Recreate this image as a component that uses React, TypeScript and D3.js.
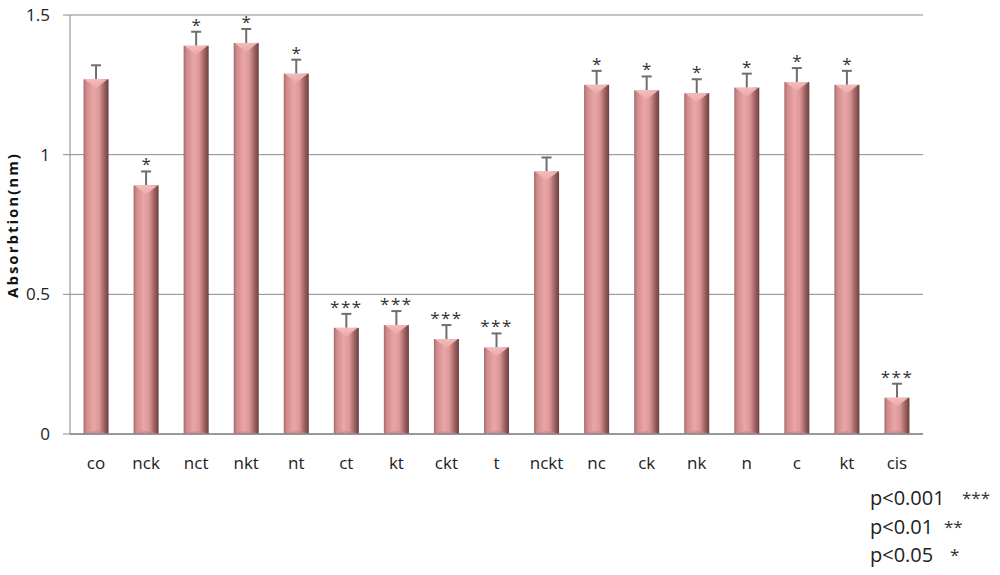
import React from "react";
import * as d3 from "d3";

const categories = ["co", "nck", "nct", "nkt", "nt", "ct", "kt", "ckt", "t", "nckt", "nc", "ck", "nk", "n", "c", "kt ", "cis"];
const values = [1.27, 0.89, 1.39, 1.40, 1.29, 0.38, 0.39, 0.34, 0.31, 0.94, 1.25, 1.23, 1.22, 1.24, 1.26, 1.25, 0.13];
const errors = [0.05, 0.05, 0.05, 0.05, 0.05, 0.05, 0.05, 0.05, 0.05, 0.05, 0.05, 0.05, 0.05, 0.05, 0.05, 0.05, 0.05];
const stars = ["", "*", "*", "*", "*", "***", "***", "***", "***", "", "*", "*", "*", "*", "*", "*", "***"];
const yTicks = [0, 0.5, 1, 1.5];
const legendLabels = ["p<0.001", "p<0.01", "p<0.05"];
const legendStars = ["***", "**", "*"];

const W = 1000, H = 575;
const left = 70, right = 923, top = 15, bottom = 434;
const font = "'Open Sans', 'Liberation Sans', sans-serif";
const legendStarX = [962, 944, 950];
const legendY = [505, 534, 562];

export default function App() {
  const x = d3.scaleBand<string>().domain(categories).range([left, right]).paddingInner(0.5).paddingOuter(0.27);
  const y = d3.scaleLinear().domain([0, 1.5]).range([bottom, top]);
  const bw = x.bandwidth();
  return (
    <svg width={W} height={H} style={{ position: "absolute", left: 0, top: 0, background: "#fff" }}>
      <defs>
        <linearGradient id="barG" x1="0" x2="1" y1="0" y2="0">
          <stop offset="0" stopColor="#a86a6a" />
          <stop offset="0.12" stopColor="#d08c8c" />
          <stop offset="0.4" stopColor="#eaa6a6" />
          <stop offset="0.62" stopColor="#dc9898" />
          <stop offset="0.82" stopColor="#a26464" />
          <stop offset="1" stopColor="#6a4040" />
        </linearGradient>
        <linearGradient id="topG" x1="0" x2="0" y1="0" y2="1">
          <stop offset="0" stopColor="#f6c0c0" />
          <stop offset="1" stopColor="#eba8a8" />
        </linearGradient>
      </defs>
      {yTicks.map(t => (
        <g key={t}>
          <line x1={63} x2={right} y1={y(t)} y2={y(t)} stroke="#8a8a8a" strokeWidth={1} />
          <text x={50} y={y(t)} dy="0.35em" textAnchor="end" fontFamily={font} fontSize={17} fill="#222">{t}</text>
        </g>
      ))}
      <line x1={left} x2={left} y1={top} y2={bottom} stroke="#8a8a8a" strokeWidth={1} />
      <text transform={`translate(13,225) rotate(-90)`} textAnchor="middle" dy="0.35em"
        fontFamily={font} fontSize={15} fontWeight="bold" letterSpacing={2} fill="#111">Absorbtion(nm)</text>
      {categories.map((c, i) => {
        const x0 = x(c)!;
        const yv = y(values[i]);
        const ye = y(values[i] + errors[i]);
        const cx = x0 + bw / 2;
        return (
          <g key={c}>
            <line x1={cx} x2={cx} y1={yv} y2={ye} stroke="#6e6e6e" strokeWidth={2} />
            <line x1={cx - 5} x2={cx + 5} y1={ye} y2={ye} stroke="#6e6e6e" strokeWidth={2} />
            <rect x={x0} y={yv} width={bw} height={bottom - yv} fill="url(#barG)" />
            <path d={`M${x0 + 1},${yv} L${x0 + bw - 1},${yv} L${cx},${yv + 9} Z`} fill="url(#topG)" opacity={0.9} />
            <path d={`M${x0},${bottom} Q${cx},${bottom - 6} ${x0 + bw},${bottom}`} fill="#c98484" opacity={0.6} />
            <text x={cx} y={ye - 1} textAnchor="middle" fontFamily={font} fontSize={17} fill="#333" letterSpacing={stars[i].length > 1 ? 1.5 : 0}>{stars[i]}</text>
            <text x={cx} y={469} textAnchor="middle" fontFamily={font} fontSize={17} fill="#222">{c.trim()}</text>
          </g>
        );
      })}
      <line x1={left} x2={right} y1={bottom} y2={bottom} stroke="#8a8a8a" strokeWidth={1.5} />
      {legendLabels.map((l, i) => (
        <g key={i}>
          <text x={870} y={legendY[i]} fontFamily={font} fontSize={20} fill="#222">{l}</text>
          <text x={legendStarX[i]} y={legendY[i] - 1} fontFamily={font} fontSize={17} fill="#333">{legendStars[i]}</text>
        </g>
      ))}
    </svg>
  );
}
